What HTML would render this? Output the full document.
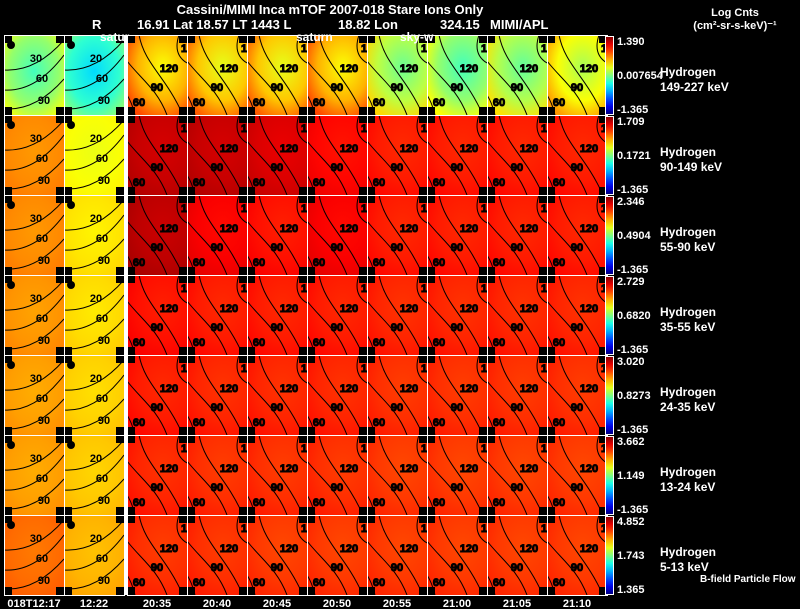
<!DOCTYPE html>
<html><head><meta charset="utf-8"><style>
html,body{margin:0;padding:0;background:#000;width:800px;height:609px;overflow:hidden}
svg text{font-family:"Liberation Sans",sans-serif;font-weight:bold;fill:#fff}
</style></head><body>
<svg id="chart" width="800" height="609" viewBox="0 0 800 609" xmlns="http://www.w3.org/2000/svg">
<text x="330" y="14" font-size="13" text-anchor="middle">Cassini/MIMI Inca mTOF  2007-018   Stare   Ions Only</text>
<text x="92" y="29" font-size="13">R</text>
<text x="137" y="29" font-size="13">16.91 Lat 18.57 LT 1443 L</text>
<text x="338" y="29" font-size="13">18.82 Lon</text>
<text x="440" y="29" font-size="13">324.15</text>
<text x="490" y="29" font-size="13">MIMI/APL</text>
<text x="735" y="16" font-size="11" text-anchor="middle">Log Cnts</text>
<text x="735" y="29" font-size="11" text-anchor="middle">(cm²-sr-s-keV)⁻¹</text>
<g id="panels"></g>
<text x="100" y="41" font-size="12">satur</text>
<text x="296" y="41" font-size="12">saturn</text>
<text x="400" y="41" font-size="12">sky-w</text>
<text x="700" y="582" font-size="10">B-field Particle Flow</text>
</svg>
<script>
const times=["018T12:17","12:22","20:35","20:40","20:45","20:50","20:55","21:00","21:05","21:10"];
const energies=["149-227 keV","90-149 keV","55-90 keV","35-55 keV","24-35 keV","13-24 keV","5-13 keV"];
const cbTop=["1.390","1.709","2.346","2.729","3.020","3.662","4.852"];
const cbMid=["0.007654","0.1721","0.4904","0.6820","0.8273","1.149","1.743"];
const cbBot=["-1.365","-1.365","-1.365","-1.365","-1.365","-1.365","1.365"];
const row0=[0.52,0.42,0.7,0.68,0.68,0.7,0.56,0.52,0.55,0.62];
const row1=[0.74,0.62,0.93,0.93,0.91,0.87,0.85,0.85,0.85,0.85];
const row2=[0.74,0.65,0.94,0.88,0.86,0.88,0.85,0.85,0.85,0.85];
const row3=[0.73,0.66,0.86,0.85,0.85,0.85,0.84,0.84,0.84,0.84];
const row4=[0.72,0.67,0.85,0.84,0.84,0.84,0.83,0.83,0.83,0.83];
const row5=[0.72,0.68,0.84,0.83,0.83,0.83,0.82,0.82,0.82,0.82];
const row6=[0.77,0.7,0.83,0.83,0.82,0.82,0.82,0.82,0.82,0.82];
const rows=[row0,row1,row2,row3,row4,row5,row6];
const NS="http://www.w3.org/2000/svg";
const g=document.getElementById('panels');
const X0=4,CW=60,Y0=35,RH=80;
function xs(c){return X0+c*CW+(c>=2?3:0);}
function ys(r){return Y0+r*RH;}
function jet(v){v=Math.max(0,Math.min(1,v));
 const r=Math.max(0,Math.min(1,1.5-Math.abs(4*v-3)));
 const gg=Math.max(0,Math.min(1,1.5-Math.abs(4*v-2)));
 const b=Math.max(0,Math.min(1,1.5-Math.abs(4*v-1)));
 return `rgb(${Math.round(r*255)},${Math.round(gg*255)},${Math.round(b*255)})`;}
function el(t,a,parent){const e=document.createElementNS(NS,t);for(const k in a)e.setAttribute(k,a[k]);(parent||g).appendChild(e);return e;}
function txt(x,y,s,size,fill,anchor,parent){const e=el('text',{x:x,y:y,'font-size':size},parent);if(fill)e.setAttribute('style','fill:'+fill);if(anchor)e.setAttribute('text-anchor',anchor);e.textContent=s;return e;}
const defs=el('defs',{});
const lg=el('linearGradient',{id:'jetv',x1:0,y1:1,x2:0,y2:0},defs);
for(let i=0;i<=10;i++){el('stop',{offset:i/10,'stop-color':jet(i/10)},lg);}
for(let r=0;r<rows.length;r++){
 for(let c=0;c<times.length;c++){
  const x=xs(c),y=ys(r),w=CW,h=RH,v=rows[r][c];
  const gid='g'+r+'_'+c;
  const rg=el('radialGradient',{id:gid,cx:c<2?0.5:0.6,cy:c<2?0.45:0.4,r:0.7},defs);
  const d=r==0?0.08:0.015;
  el('stop',{offset:0,'stop-color':jet(v-d)},rg);
  el('stop',{offset:0.6,'stop-color':jet(v)},rg);
  el('stop',{offset:1,'stop-color':jet(v+d*1.3)},rg);
  const cid='c'+r+'_'+c;
  const cp=el('clipPath',{id:cid},defs);
  el('rect',{x:x,y:y,width:w,height:h},cp);
  const p=el('rect',{x:x,y:y,width:w,height:h,fill:'url(#'+gid+')'});
  
  
  const cc=el('g',{stroke:'#000',fill:'none','stroke-width':1,'clip-path':'url(#'+cid+')'});
  if(c<2){
   [[35,5],[55,20],[74,44]].forEach(o=>{el('path',{d:`M${x} ${y+o[0]} Q${x+32} ${y+o[0]+2} ${x+w} ${y+o[1]}`},cc);});
   el('circle',{cx:x+7,cy:y+10,r:4,fill:'#000'});
   txt(x+32,y+27,c==0?'30':'20',11,'#000','middle');
   txt(x+38,y+47,'60',11,'#000','middle');
   txt(x+40,y+69,'90',11,'#000','middle');
  }else{
   el('path',{d:`M${x+12} ${y} C${x+18} ${y+30} ${x+38} ${y+40} ${x+56} ${y+h}`},cc);
   el('path',{d:`M${x} ${y+26} C${x+14} ${y+44} ${x+30} ${y+54} ${x+40} ${y+h}`},cc);
   el('path',{d:`M${x} ${y+60} C${x+4} ${y+66} ${x+6} ${y+72} ${x+8} ${y+h}`},cc);
   el('path',{d:`M${x+52} ${y} C${x+48} ${y+12} ${x+50} ${y+22} ${x+w} ${y+28}`},cc);
   txt(x+42,y+37,'120',11,'#000','middle',cc);
   txt(x+30,y+56,'90',11,'#000','middle',cc);
   txt(x+12,y+71,'60',11,'#000','middle',cc);
   txt(x+54,y+17,'15',11,'#000','start',cc);
  }
  [[x,y],[x+w-8,y],[x,y+h-8],[x+w-8,y+h-8]].forEach(q=>el('rect',{x:q[0],y:q[1],width:8,height:8,fill:'#000'}));
  el('rect',{x:x+0.5,y:y+0.5,width:w,height:h,fill:'none',stroke:'#fff','stroke-width':1});
 }
 const cy=ys(r);
 const cb=el('rect',{x:605.5,y:cy+1.5,width:8,height:RH-2,fill:'url(#jetv)',stroke:'#fff','stroke-width':1});
 
 
 txt(617,cy+10,cbTop[r],11);
 txt(617,cy+44,cbMid[r],11);
 txt(617,cy+78,cbBot[r],11);
 const hy=txt(660,cy+41,'Hydrogen',12);
 
 
 txt(660,cy+56,energies[r],12);
}
el('rect',{x:124,y:Y0,width:3,height:RH*7,fill:'#fff'});
for(let c=0;c<times.length;c++){
 const t=txt(xs(c)+30,607,times[c],11,null,'middle');
 
 
}
</script>
</body></html>
